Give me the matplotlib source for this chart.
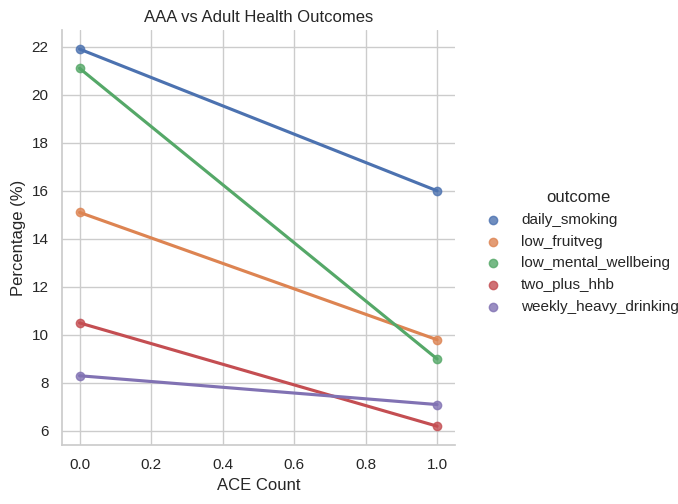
import pandas as pd
import seaborn as sns
import matplotlib
matplotlib.use("Agg")
import matplotlib.pyplot as plt

sns.set_theme(style="whitegrid")
plt.rcParams['font.family'] = ['Liberation Sans', 'DejaVu Sans']

ace = [0, 1]
outcomes = ["daily_smoking", "low_fruitveg", "low_mental_wellbeing",
            "two_plus_hhb", "weekly_heavy_drinking"]
daily_smoking = [21.9, 16.0]
low_fruitveg = [15.1, 9.8]
low_mental_wellbeing = [21.1, 9.0]
two_plus_hhb = [10.5, 6.2]
weekly_heavy_drinking = [8.3, 7.1]

vals = [daily_smoking, low_fruitveg, low_mental_wellbeing, two_plus_hhb, weekly_heavy_drinking]
rows = []
for name, v in zip(outcomes, vals):
    for a, p in zip(ace, v):
        rows.append({"ace_count": a, "percentage": p, "outcome": name})
df = pd.DataFrame(rows)

g = sns.lmplot(data=df, x="ace_count", y="percentage", hue="outcome",
               ci=None, height=5, aspect=1)
g.set_axis_labels("ACE Count", "Percentage (%)")
g.ax.set_title("AAA vs Adult Health Outcomes")
g.figure.set_size_inches(6.78, 5.04)
g.figure.subplots_adjust(left=0.091, right=0.671, bottom=0.117, top=0.94)
sns.move_legend(g, "center left", bbox_to_anchor=(0.685, 0.5))
g.figure.savefig("out.png", dpi=100)
